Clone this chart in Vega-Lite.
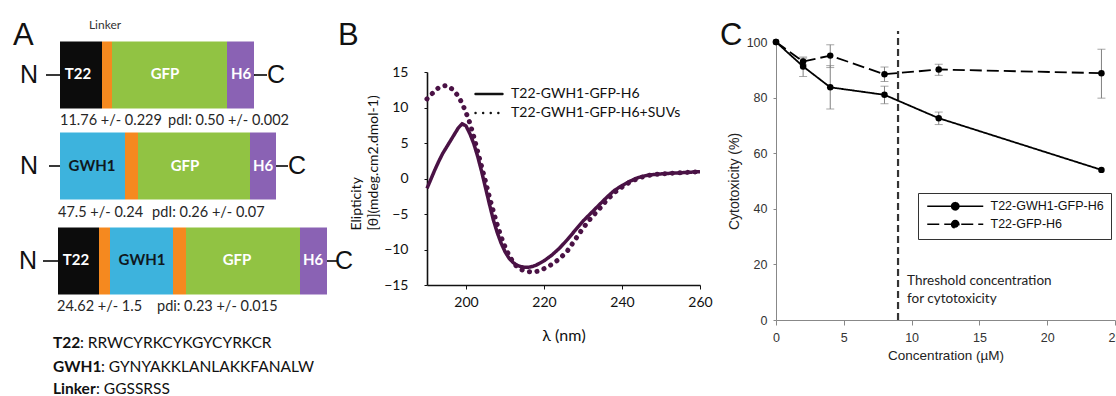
{
  "$schema": "https://vega.github.io/schema/vega-lite/v6.json",
  "padding": 0,
  "background": "white",
  "bounds": "flush",
  "spacing": 76,
  "resolve": {"scale": {"strokeDash": "independent", "color": "independent"}, "legend": {"strokeDash": "independent"}},
  "config": {"view": {"stroke": null}, "font": "Lato"},
  "datasets": {
    "segments": [
      {"construct": 1, "part": "T22", "x0": 60, "x1": 102, "y0": 41.5, "y1": 108.5},
      {"construct": 1, "part": "Linker", "x0": 102, "x1": 112, "y0": 41.5, "y1": 108.5},
      {"construct": 1, "part": "GFP", "x0": 112, "x1": 227, "y0": 41.5, "y1": 108.5},
      {"construct": 1, "part": "H6", "x0": 227, "x1": 254, "y0": 41.5, "y1": 108.5},
      {"construct": 2, "part": "GWH1", "x0": 60, "x1": 125, "y0": 132.5, "y1": 199.5},
      {"construct": 2, "part": "Linker", "x0": 125, "x1": 138, "y0": 132.5, "y1": 199.5},
      {"construct": 2, "part": "GFP", "x0": 138, "x1": 250, "y0": 132.5, "y1": 199.5},
      {"construct": 2, "part": "H6", "x0": 250, "x1": 276, "y0": 132.5, "y1": 199.5},
      {"construct": 3, "part": "T22", "x0": 58, "x1": 99, "y0": 227.5, "y1": 294.5},
      {"construct": 3, "part": "Linker", "x0": 99, "x1": 110, "y0": 227.5, "y1": 294.5},
      {"construct": 3, "part": "GWH1", "x0": 110, "x1": 173, "y0": 227.5, "y1": 294.5},
      {"construct": 3, "part": "Linker", "x0": 173, "x1": 186, "y0": 227.5, "y1": 294.5},
      {"construct": 3, "part": "GFP", "x0": 186, "x1": 300, "y0": 227.5, "y1": 294.5},
      {"construct": 3, "part": "H6", "x0": 300, "x1": 327, "y0": 227.5, "y1": 294.5}
    ],
    "partLabels": [
      {"part": "T22", "x": 78, "y": 74},
      {"part": "GFP", "x": 165, "y": 74},
      {"part": "H6", "x": 241, "y": 74},
      {"part": "GWH1", "x": 92, "y": 166},
      {"part": "GFP", "x": 185, "y": 166},
      {"part": "H6", "x": 263, "y": 166},
      {"part": "T22", "x": 76, "y": 260},
      {"part": "GWH1", "x": 142, "y": 260},
      {"part": "GFP", "x": 237, "y": 260},
      {"part": "H6", "x": 313, "y": 260}
    ],
    "connectors": [
      {"x0": 46, "x1": 60, "y": 75},
      {"x0": 254, "x1": 267, "y": 75},
      {"x0": 49, "x1": 60, "y": 166},
      {"x0": 276, "x1": 288, "y": 166},
      {"x0": 43, "x1": 58, "y": 261},
      {"x0": 327, "x1": 337, "y": 261}
    ],
    "termini": [
      {"t": "N", "x": 29, "y": 75},
      {"t": "C", "x": 276, "y": 75},
      {"t": "N", "x": 29, "y": 166},
      {"t": "C", "x": 297, "y": 166},
      {"t": "N", "x": 28, "y": 261},
      {"t": "C", "x": 344, "y": 261}
    ],
    "stats": [
      {"t": "11.76 +/- 0.229", "x": 60, "y": 121},
      {"t": "pdI: 0.50 +/- 0.002", "x": 168, "y": 121},
      {"t": "47.5 +/- 0.24", "x": 58, "y": 213},
      {"t": "pdI: 0.26 +/- 0.07", "x": 152, "y": 213},
      {"t": "24.62 +/- 1.5", "x": 57, "y": 307},
      {"t": "pdi: 0.23 +/- 0.015", "x": 157, "y": 307}
    ],
    "seqNames": [
      {"t": "T22", "x": 53, "y": 343},
      {"t": "GWH1", "x": 53, "y": 367},
      {"t": "Linker", "x": 53, "y": 389}
    ],
    "seqs": [
      {"t": ": RRWCYRKCYKGYCYRKCR", "x": 80, "y": 343},
      {"t": ": GYNYAKKLANLAKKFANALW", "x": 101, "y": 367},
      {"t": ": GGSSRSS", "x": 96, "y": 389}
    ],
    "linkerNote": [{"t": "Linker", "x": 105, "y": 25}],
    "cd": [
      {"series": "T22-GWH1-GFP-H6", "wl": 190, "ell": -1.4},
      {"series": "T22-GWH1-GFP-H6", "wl": 191, "ell": -0.1},
      {"series": "T22-GWH1-GFP-H6", "wl": 192, "ell": 1.2},
      {"series": "T22-GWH1-GFP-H6", "wl": 193, "ell": 2.4},
      {"series": "T22-GWH1-GFP-H6", "wl": 194, "ell": 3.5},
      {"series": "T22-GWH1-GFP-H6", "wl": 195, "ell": 4.4},
      {"series": "T22-GWH1-GFP-H6", "wl": 196, "ell": 5.3},
      {"series": "T22-GWH1-GFP-H6", "wl": 197, "ell": 6.2},
      {"series": "T22-GWH1-GFP-H6", "wl": 198, "ell": 7.1},
      {"series": "T22-GWH1-GFP-H6", "wl": 199, "ell": 7.7},
      {"series": "T22-GWH1-GFP-H6", "wl": 200, "ell": 7.4},
      {"series": "T22-GWH1-GFP-H6", "wl": 201, "ell": 6.3},
      {"series": "T22-GWH1-GFP-H6", "wl": 202, "ell": 4.9},
      {"series": "T22-GWH1-GFP-H6", "wl": 203, "ell": 3.1},
      {"series": "T22-GWH1-GFP-H6", "wl": 204, "ell": 1.0},
      {"series": "T22-GWH1-GFP-H6", "wl": 205, "ell": -1.3},
      {"series": "T22-GWH1-GFP-H6", "wl": 206, "ell": -3.6},
      {"series": "T22-GWH1-GFP-H6", "wl": 207, "ell": -5.8},
      {"series": "T22-GWH1-GFP-H6", "wl": 208, "ell": -7.6},
      {"series": "T22-GWH1-GFP-H6", "wl": 209, "ell": -9.1},
      {"series": "T22-GWH1-GFP-H6", "wl": 210, "ell": -10.3},
      {"series": "T22-GWH1-GFP-H6", "wl": 211, "ell": -11.2},
      {"series": "T22-GWH1-GFP-H6", "wl": 212, "ell": -11.8},
      {"series": "T22-GWH1-GFP-H6", "wl": 213, "ell": -12.2},
      {"series": "T22-GWH1-GFP-H6", "wl": 214, "ell": -12.4},
      {"series": "T22-GWH1-GFP-H6", "wl": 215, "ell": -12.5},
      {"series": "T22-GWH1-GFP-H6", "wl": 216, "ell": -12.5},
      {"series": "T22-GWH1-GFP-H6", "wl": 217, "ell": -12.4},
      {"series": "T22-GWH1-GFP-H6", "wl": 218, "ell": -12.2},
      {"series": "T22-GWH1-GFP-H6", "wl": 219, "ell": -11.9},
      {"series": "T22-GWH1-GFP-H6", "wl": 220, "ell": -11.6},
      {"series": "T22-GWH1-GFP-H6", "wl": 222, "ell": -10.8},
      {"series": "T22-GWH1-GFP-H6", "wl": 224, "ell": -9.8},
      {"series": "T22-GWH1-GFP-H6", "wl": 226, "ell": -8.6},
      {"series": "T22-GWH1-GFP-H6", "wl": 228, "ell": -7.3},
      {"series": "T22-GWH1-GFP-H6", "wl": 230, "ell": -6.0},
      {"series": "T22-GWH1-GFP-H6", "wl": 232, "ell": -4.9},
      {"series": "T22-GWH1-GFP-H6", "wl": 234, "ell": -3.8},
      {"series": "T22-GWH1-GFP-H6", "wl": 236, "ell": -2.7},
      {"series": "T22-GWH1-GFP-H6", "wl": 238, "ell": -1.7},
      {"series": "T22-GWH1-GFP-H6", "wl": 240, "ell": -1.0},
      {"series": "T22-GWH1-GFP-H6", "wl": 242, "ell": -0.4},
      {"series": "T22-GWH1-GFP-H6", "wl": 244, "ell": 0.1},
      {"series": "T22-GWH1-GFP-H6", "wl": 246, "ell": 0.4},
      {"series": "T22-GWH1-GFP-H6", "wl": 248, "ell": 0.55},
      {"series": "T22-GWH1-GFP-H6", "wl": 250, "ell": 0.65},
      {"series": "T22-GWH1-GFP-H6", "wl": 252, "ell": 0.72},
      {"series": "T22-GWH1-GFP-H6", "wl": 254, "ell": 0.78},
      {"series": "T22-GWH1-GFP-H6", "wl": 256, "ell": 0.84},
      {"series": "T22-GWH1-GFP-H6", "wl": 258, "ell": 0.9},
      {"series": "T22-GWH1-GFP-H6", "wl": 260, "ell": 0.95},
      {"series": "T22-GWH1-GFP-H6+SUVs", "wl": 190, "ell": 11.2},
      {"series": "T22-GWH1-GFP-H6+SUVs", "wl": 191, "ell": 11.8},
      {"series": "T22-GWH1-GFP-H6+SUVs", "wl": 192, "ell": 12.3},
      {"series": "T22-GWH1-GFP-H6+SUVs", "wl": 193, "ell": 12.8},
      {"series": "T22-GWH1-GFP-H6+SUVs", "wl": 194, "ell": 13.0},
      {"series": "T22-GWH1-GFP-H6+SUVs", "wl": 195, "ell": 13.1},
      {"series": "T22-GWH1-GFP-H6+SUVs", "wl": 196, "ell": 12.8},
      {"series": "T22-GWH1-GFP-H6+SUVs", "wl": 197, "ell": 12.3},
      {"series": "T22-GWH1-GFP-H6+SUVs", "wl": 198, "ell": 11.6},
      {"series": "T22-GWH1-GFP-H6+SUVs", "wl": 199, "ell": 10.6},
      {"series": "T22-GWH1-GFP-H6+SUVs", "wl": 200, "ell": 9.3},
      {"series": "T22-GWH1-GFP-H6+SUVs", "wl": 201, "ell": 7.8},
      {"series": "T22-GWH1-GFP-H6+SUVs", "wl": 202, "ell": 5.9},
      {"series": "T22-GWH1-GFP-H6+SUVs", "wl": 203, "ell": 3.8},
      {"series": "T22-GWH1-GFP-H6+SUVs", "wl": 204, "ell": 1.7},
      {"series": "T22-GWH1-GFP-H6+SUVs", "wl": 205, "ell": -0.4},
      {"series": "T22-GWH1-GFP-H6+SUVs", "wl": 206, "ell": -2.6},
      {"series": "T22-GWH1-GFP-H6+SUVs", "wl": 207, "ell": -4.6},
      {"series": "T22-GWH1-GFP-H6+SUVs", "wl": 208, "ell": -6.5},
      {"series": "T22-GWH1-GFP-H6+SUVs", "wl": 209, "ell": -8.2},
      {"series": "T22-GWH1-GFP-H6+SUVs", "wl": 210, "ell": -9.6},
      {"series": "T22-GWH1-GFP-H6+SUVs", "wl": 211, "ell": -10.8},
      {"series": "T22-GWH1-GFP-H6+SUVs", "wl": 212, "ell": -11.7},
      {"series": "T22-GWH1-GFP-H6+SUVs", "wl": 213, "ell": -12.4},
      {"series": "T22-GWH1-GFP-H6+SUVs", "wl": 214, "ell": -12.8},
      {"series": "T22-GWH1-GFP-H6+SUVs", "wl": 215, "ell": -13.0},
      {"series": "T22-GWH1-GFP-H6+SUVs", "wl": 216, "ell": -13.1},
      {"series": "T22-GWH1-GFP-H6+SUVs", "wl": 217, "ell": -13.2},
      {"series": "T22-GWH1-GFP-H6+SUVs", "wl": 218, "ell": -13.1},
      {"series": "T22-GWH1-GFP-H6+SUVs", "wl": 219, "ell": -13.0},
      {"series": "T22-GWH1-GFP-H6+SUVs", "wl": 220, "ell": -12.7},
      {"series": "T22-GWH1-GFP-H6+SUVs", "wl": 222, "ell": -12.1},
      {"series": "T22-GWH1-GFP-H6+SUVs", "wl": 224, "ell": -11.3},
      {"series": "T22-GWH1-GFP-H6+SUVs", "wl": 226, "ell": -10.2},
      {"series": "T22-GWH1-GFP-H6+SUVs", "wl": 228, "ell": -8.6},
      {"series": "T22-GWH1-GFP-H6+SUVs", "wl": 230, "ell": -7.0},
      {"series": "T22-GWH1-GFP-H6+SUVs", "wl": 232, "ell": -5.6},
      {"series": "T22-GWH1-GFP-H6+SUVs", "wl": 234, "ell": -4.4},
      {"series": "T22-GWH1-GFP-H6+SUVs", "wl": 236, "ell": -3.1},
      {"series": "T22-GWH1-GFP-H6+SUVs", "wl": 238, "ell": -2.0},
      {"series": "T22-GWH1-GFP-H6+SUVs", "wl": 240, "ell": -1.2},
      {"series": "T22-GWH1-GFP-H6+SUVs", "wl": 242, "ell": -0.5},
      {"series": "T22-GWH1-GFP-H6+SUVs", "wl": 244, "ell": 0.0},
      {"series": "T22-GWH1-GFP-H6+SUVs", "wl": 246, "ell": 0.35},
      {"series": "T22-GWH1-GFP-H6+SUVs", "wl": 248, "ell": 0.55},
      {"series": "T22-GWH1-GFP-H6+SUVs", "wl": 250, "ell": 0.65},
      {"series": "T22-GWH1-GFP-H6+SUVs", "wl": 252, "ell": 0.72},
      {"series": "T22-GWH1-GFP-H6+SUVs", "wl": 254, "ell": 0.78},
      {"series": "T22-GWH1-GFP-H6+SUVs", "wl": 256, "ell": 0.84},
      {"series": "T22-GWH1-GFP-H6+SUVs", "wl": 258, "ell": 0.9},
      {"series": "T22-GWH1-GFP-H6+SUVs", "wl": 260, "ell": 0.95}
    ],
    "tox": [
      {"series": "T22-GWH1-GFP-H6", "conc": 0, "tox": 100, "lo": null, "hi": null},
      {"series": "T22-GWH1-GFP-H6", "conc": 2, "tox": 91.2, "lo": 87.6, "hi": 94.6},
      {"series": "T22-GWH1-GFP-H6", "conc": 4, "tox": 83.7, "lo": 75.9, "hi": 91.5},
      {"series": "T22-GWH1-GFP-H6", "conc": 8, "tox": 81.0, "lo": 77.8, "hi": 84.1},
      {"series": "T22-GWH1-GFP-H6", "conc": 12, "tox": 72.6, "lo": 70.3, "hi": 74.8},
      {"series": "T22-GWH1-GFP-H6", "conc": 24, "tox": 54.0, "lo": null, "hi": null},
      {"series": "T22-GFP-H6", "conc": 0, "tox": 100, "lo": null, "hi": null},
      {"series": "T22-GFP-H6", "conc": 2, "tox": 93.0, "lo": 91.8, "hi": 94.2},
      {"series": "T22-GFP-H6", "conc": 4, "tox": 95.1, "lo": 90.8, "hi": 99.0},
      {"series": "T22-GFP-H6", "conc": 8, "tox": 88.4, "lo": 85.8, "hi": 91.0},
      {"series": "T22-GFP-H6", "conc": 12, "tox": 90.1, "lo": 88.0, "hi": 92.0},
      {"series": "T22-GFP-H6", "conc": 24, "tox": 88.8, "lo": 79.8, "hi": 97.4}
    ],
    "threshold": [
      {"conc": 9, "y0": 0, "y1": 104, "ty": 14.2, "note": "Threshold concentration\nfor cytotoxicity"}
    ]
  },
  "hconcat": [
    {
      "width": 351,
      "height": 396,
      "title": {"text": "A", "anchor": "start", "frame": "group", "offset": -76, "dx": 13, "fontSize": 31, "font": "Liberation Sans", "fontWeight": "normal", "baseline": "alphabetic", "color": "#111"},
      "layer": [
        {
          "data": {"name": "segments"},
          "mark": {"type": "rect"},
          "encoding": {
            "x": {"field": "x0", "type": "quantitative", "scale": {"domain": [0, 351], "nice": false, "zero": false}, "axis": null},
            "x2": {"field": "x1"},
            "y": {"field": "y0", "type": "quantitative", "scale": {"domain": [0, 396], "reverse": true, "nice": false, "zero": false}, "axis": null},
            "y2": {"field": "y1"},
            "color": {"field": "part", "type": "nominal", "scale": {"domain": ["T22", "Linker", "GFP", "H6", "GWH1"], "range": ["#0c0c0c", "#f5891f", "#91c343", "#8a62b4", "#3db3dd"]}, "legend": null}
          }
        },
        {
          "data": {"name": "partLabels"},
          "mark": {"type": "text", "font": "Lato", "fontWeight": "bold", "fontSize": 15, "align": "center", "baseline": "middle"},
          "encoding": {
            "x": {"field": "x", "type": "quantitative"},
            "y": {"field": "y", "type": "quantitative"},
            "text": {"field": "part"},
            "color": {"condition": {"test": "datum.part === 'GWH1'", "value": "#101820"}, "value": "#ffffff"}
          }
        },
        {
          "data": {"name": "connectors"},
          "mark": {"type": "rule", "color": "#222", "strokeWidth": 1.8},
          "encoding": {
            "x": {"field": "x0", "type": "quantitative"},
            "x2": {"field": "x1"},
            "y": {"field": "y", "type": "quantitative"}
          }
        },
        {
          "data": {"name": "termini"},
          "mark": {"type": "text", "font": "Liberation Sans", "fontSize": 25, "align": "center", "baseline": "middle", "color": "#111"},
          "encoding": {
            "x": {"field": "x", "type": "quantitative"},
            "y": {"field": "y", "type": "quantitative"},
            "text": {"field": "t"}
          }
        },
        {
          "data": {"name": "stats"},
          "mark": {"type": "text", "font": "Lato", "fontSize": 14.5, "align": "left", "baseline": "middle", "color": "#262626"},
          "encoding": {
            "x": {"field": "x", "type": "quantitative"},
            "y": {"field": "y", "type": "quantitative"},
            "text": {"field": "t"}
          }
        },
        {
          "data": {"name": "seqNames"},
          "mark": {"type": "text", "font": "Lato", "fontWeight": "bold", "fontSize": 15.5, "align": "left", "baseline": "middle", "color": "#111"},
          "encoding": {
            "x": {"field": "x", "type": "quantitative"},
            "y": {"field": "y", "type": "quantitative"},
            "text": {"field": "t"}
          }
        },
        {
          "data": {"name": "seqs"},
          "mark": {"type": "text", "font": "Lato", "fontSize": 15.5, "align": "left", "baseline": "middle", "color": "#111"},
          "encoding": {
            "x": {"field": "x", "type": "quantitative"},
            "y": {"field": "y", "type": "quantitative"},
            "text": {"field": "t"}
          }
        },
        {
          "data": {"name": "linkerNote"},
          "mark": {"type": "text", "font": "Lato", "fontSize": 12, "align": "center", "baseline": "middle", "color": "#333"},
          "encoding": {
            "x": {"field": "x", "type": "quantitative"},
            "y": {"field": "y", "type": "quantitative"},
            "text": {"field": "t"}
          }
        }
      ]
    },
    {
      "width": 273,
      "height": 285,
      "title": {"text": "B", "anchor": "start", "frame": "group", "offset": -76, "dx": -89, "fontSize": 31, "font": "Liberation Sans", "fontWeight": "normal", "baseline": "alphabetic", "color": "#111"},
      "data": {"name": "cd"},
      "encoding": {
        "x": {"field": "wl", "type": "quantitative", "scale": {"domain": [190, 260], "nice": false, "zero": false},
          "axis": {"values": [200, 220, 240, 260], "labelFlush": false, "labelOverlap": false, "title": "λ (nm)", "titleFont": "Lato", "titleFontSize": 16, "titleFontWeight": "normal", "titleColor": "#111", "titlePadding": 18, "labelFont": "Lato", "labelFontSize": 14, "labelColor": "#111", "domainColor": "#111", "domainWidth": 1.6, "tickColor": "#111", "tickSize": 4, "labelPadding": 6, "grid": false}},
        "y": {"field": "ell", "type": "quantitative", "scale": {"domain": [-15, 15], "range": [285, 72], "nice": false, "zero": false},
          "axis": {"values": [-15, -10, -5, 0, 5, 10, 15], "labelFlush": false, "labelOverlap": false, "title": ["Elipticity", "[θ](mdeg.cm2.dmol-1)"], "titleX": -67, "titleY": 230, "titleAngle": -90, "titleAlign": "left", "titleBaseline": "alphabetic", "titleLineHeight": 17, "titleFont": "Lato", "titleFontSize": 14, "titleFontWeight": "normal", "titleColor": "#111", "labelFont": "Lato", "labelFontSize": 14, "labelColor": "#111", "labelPadding": 16, "domainColor": "#111", "domainWidth": 1.6, "tickColor": "#111", "tickSize": 3, "grid": false}},
        "strokeDash": {"field": "series", "type": "nominal", "scale": {"domain": ["T22-GWH1-GFP-H6", "T22-GWH1-GFP-H6+SUVs"], "range": [[1, 0], [0.1, 7.5]]},
          "legend": {"title": null, "orient": "none", "legendX": 46, "legendY": 87, "symbolType": "M-3,0H3", "symbolSize": 81, "symbolOffset": 9, "labelOffset": 15, "labelFont": "Lato", "labelFontSize": 14, "labelColor": "#111", "labelLimit": 300, "rowPadding": 5, "symbolStrokeWidth": 2.4, "symbolStrokeColor": "#111",
            "encode": {"symbols": {
              "enter": {"strokeCap": {"value": "round"}},
              "update": {"stroke": {"value": "#111"}, "strokeCap": {"value": "round"}, "strokeDash": [{"test": "datum.value === 'T22-GWH1-GFP-H6+SUVs'", "value": [0.1, 3.2]}, {"value": [1, 0]}]}}}}}
      },
      "layer": [
        {"transform": [{"filter": "datum.series === 'T22-GWH1-GFP-H6+SUVs'"}], "mark": {"type": "line", "color": "#4a1245", "strokeWidth": 5, "strokeCap": "round"}},
        {"transform": [{"filter": "datum.series === 'T22-GWH1-GFP-H6'"}], "mark": {"type": "line", "color": "#4a1245", "strokeWidth": 3.5}}
      ]
    },
    {
      "width": 339,
      "height": 320,
      "title": {"text": "C", "anchor": "start", "frame": "group", "offset": -76, "dx": -56, "fontSize": 31, "font": "Liberation Sans", "fontWeight": "normal", "baseline": "alphabetic", "color": "#111"},
      "layer": [
        {
          "data": {"name": "threshold"},
          "mark": {"type": "rule", "color": "#333", "strokeWidth": 2.2, "strokeDash": [7, 4]},
          "encoding": {
            "x": {"field": "conc", "type": "quantitative", "title": "Concentration (µM)", "scale": {"domain": [0, 25], "nice": false, "zero": false},
              "axis": {"values": [0, 5, 10, 15, 20, 25], "labelFlush": false, "labelOverlap": false, "titleFont": "Liberation Sans", "titleFontSize": 13.5, "titleFontWeight": "normal", "titleColor": "#222", "titlePadding": 5, "labelFont": "Liberation Sans", "labelFontSize": 12.5, "labelColor": "#333", "domainColor": "#888", "tickColor": "#888", "tickSize": 5, "labelPadding": 6, "grid": false}},
            "y": {"field": "y0", "type": "quantitative", "title": "Cytotoxicity (%)", "scale": {"domain": [0, 100], "range": [320, 42], "nice": false, "zero": false},
              "axis": {"values": [0, 20, 40, 60, 80, 100], "labelFlush": false, "labelOverlap": false, "titleFont": "Liberation Sans", "titleFontSize": 14, "titleFontWeight": "normal", "titleColor": "#222", "titlePadding": 5, "labelFont": "Liberation Sans", "labelFontSize": 12.5, "labelColor": "#333", "labelPadding": 6, "domainColor": "#888", "tickColor": "#888", "tickSize": 3, "grid": false}},
            "y2": {"field": "y1"}
          }
        },
        {
          "data": {"name": "threshold"},
          "mark": {"type": "text", "align": "left", "baseline": "middle", "lineBreak": "\n", "font": "Lato", "fontSize": 13.5, "lineHeight": 18, "color": "#222", "dx": 9},
          "encoding": {
            "x": {"field": "conc", "type": "quantitative", "title": "Concentration (µM)"},
            "y": {"field": "ty", "type": "quantitative", "title": "Cytotoxicity (%)"},
            "text": {"field": "note"}
          }
        },
        {
          "data": {"name": "tox"},
          "transform": [{"filter": "datum.lo != null"}],
          "mark": {"type": "errorbar", "color": "#808080", "thickness": 1, "ticks": {"size": 8, "color": "#808080"}},
          "encoding": {
            "x": {"field": "conc", "type": "quantitative", "title": "Concentration (µM)"},
            "y": {"field": "lo", "type": "quantitative", "title": "Cytotoxicity (%)"},
            "y2": {"field": "hi"}
          }
        },
        {
          "data": {"name": "tox"},
          "mark": {"type": "line", "color": "#000", "strokeWidth": 1.8, "point": {"filled": true, "size": 42, "color": "#000"}},
          "encoding": {
            "x": {"field": "conc", "type": "quantitative", "title": "Concentration (µM)"},
            "y": {"field": "tox", "type": "quantitative", "title": "Cytotoxicity (%)"},
            "strokeDash": {"field": "series", "type": "nominal", "scale": {"domain": ["T22-GWH1-GFP-H6", "T22-GFP-H6"], "range": [[1, 0], [12, 5]]},
              "legend": {"title": null, "orient": "none", "legendX": 142, "legendY": 193, "symbolType": "M-7,0H7M-0.9,0A0.9,0.9,0,1,1,0.9,0A0.9,0.9,0,1,1,-0.9,0Z", "symbolSize": 64, "symbolOffset": 24, "labelOffset": 29, "labelFont": "Liberation Sans", "labelFontSize": 12.5, "labelColor": "#111", "labelLimit": 300, "rowPadding": 3, "padding": 7, "strokeColor": "#333", "fillColor": "white", "symbolFillColor": "#000", "symbolStrokeColor": "#000",
                "encode": {"symbols": {"update": {"stroke": {"value": "#000"}, "fill": {"value": "#000"}, "fillOpacity": {"value": 1}, "opacity": {"value": 1}, "strokeWidth": {"value": 1.6}}}}}}
          }
        }
      ]
    }
  ]
}
